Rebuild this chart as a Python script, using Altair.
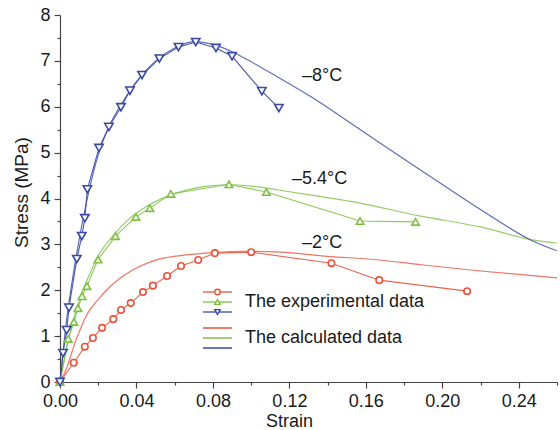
import altair as alt
import pandas as pd

# Temperatures of the three test series
temps = ["-2", "-5.4", "-8"]
temp_labels = ["\u20132\u00b0C", "\u20135.4\u00b0C", "\u20138\u00b0C"]
colors = ["#e9533d", "#7cc142", "#3a4aa4"]
shapes = ["circle", "triangle-up", "triangle-down"]
marker_sizes = [42, 70, 70]

# Experimental data, -8 °C
exp_m8_strain = [0, 0.0016, 0.0035, 0.0047, 0.0088, 0.0114, 0.013, 0.0143, 0.0204, 0.0256,
                 0.0319, 0.0366, 0.0429, 0.052, 0.062, 0.071, 0.0816, 0.090, 0.1056, 0.1145]
exp_m8_stress = [0, 0.63, 1.13, 1.62, 2.68, 3.18, 3.57, 4.2, 5.1, 5.56,
                 5.99, 6.35, 6.69, 7.05, 7.3, 7.41, 7.28, 7.1, 6.34, 5.97]

# Experimental data, -5.4 °C
exp_m54_strain = [0, 0.0043, 0.0073, 0.0094, 0.0115, 0.0141, 0.0199, 0.029, 0.0397, 0.047,
                  0.058, 0.0884, 0.108, 0.157, 0.186]
exp_m54_stress = [0, 0.94, 1.31, 1.61, 1.87, 2.09, 2.67, 3.18, 3.6, 3.79,
                  4.1, 4.31, 4.14, 3.51, 3.49]

# Experimental data, -2 °C
exp_m2_strain = [0, 0.0072, 0.013, 0.0172, 0.022, 0.0279, 0.0319, 0.037, 0.0434, 0.0486,
                 0.056, 0.0633, 0.0723, 0.081, 0.1, 0.142, 0.167, 0.213]
exp_m2_stress = [0, 0.42, 0.77, 0.96, 1.18, 1.37, 1.57, 1.72, 1.96, 2.1,
                 2.31, 2.53, 2.66, 2.81, 2.83, 2.59, 2.22, 1.98]

# Calculated curves
calc_m8_strain = [0, 0.003, 0.006, 0.01, 0.014, 0.02, 0.026, 0.032, 0.04, 0.05, 0.06, 0.07,
                  0.08, 0.09, 0.1, 0.115, 0.132, 0.15, 0.167, 0.185, 0.202, 0.223, 0.247, 0.26]
calc_m8_stress = [0, 1.2, 2.1, 3.1, 3.95, 4.95, 5.6, 6.05, 6.55, 7.0, 7.28, 7.42,
                  7.36, 7.2, 6.98, 6.62, 6.2, 5.7, 5.22, 4.72, 4.25, 3.68, 3.08, 2.86]

calc_m54_strain = [0, 0.004, 0.008, 0.012, 0.016, 0.02, 0.028, 0.036, 0.045, 0.055, 0.065,
                   0.075, 0.088, 0.1, 0.115, 0.135, 0.157, 0.188, 0.22, 0.247, 0.26]
calc_m54_stress = [0, 0.85, 1.5, 2.0, 2.4, 2.75, 3.2, 3.55, 3.82, 4.03, 4.17,
                   4.26, 4.3, 4.27, 4.18, 4.05, 3.9, 3.62, 3.38, 3.1, 3.03]

calc_m2_strain = [0, 0.003, 0.008, 0.014, 0.02, 0.026, 0.038, 0.052, 0.066, 0.08, 0.095,
                  0.115, 0.14, 0.167, 0.19, 0.22, 0.26]
calc_m2_stress = [0, 0.25, 0.87, 1.46, 1.8, 2.07, 2.44, 2.68, 2.77, 2.82, 2.85,
                  2.83, 2.74, 2.66, 2.55, 2.42, 2.27]

legend_texts = ["The experimental data", "The calculated data"]


def frame(strain, stress, temp):
    return pd.DataFrame({"strain": strain, "stress": stress, "temp": temp})


exp_df = pd.concat([
    frame(exp_m2_strain, exp_m2_stress, "-2"),
    frame(exp_m54_strain, exp_m54_stress, "-5.4"),
    frame(exp_m8_strain, exp_m8_stress, "-8"),
], ignore_index=True)

calc_df = pd.concat([
    frame(calc_m2_strain, calc_m2_stress, "-2"),
    frame(calc_m54_strain, calc_m54_stress, "-5.4"),
    frame(calc_m8_strain, calc_m8_stress, "-8"),
], ignore_index=True)

FONT = "Liberation Sans"
AXIS_COLOR = "#454545"
TEXT_COLOR = "#1a1a1a"

x_ticks = [round(i * 0.02, 2) for i in range(14)]
y_ticks = [i * 0.5 for i in range(17)]

x_major = "round(datum.value * 100) % 4 == 0"
y_major = "round(datum.value * 2) % 2 == 0"

x_axis = alt.Axis(
    values=x_ticks, title="Strain", grid=False,
    labelExpr=f"{x_major} ? format(datum.value, '.2f') : ''",
    tickSize={"condition": {"test": x_major, "value": 6}, "value": 3},
    domainColor=AXIS_COLOR, tickColor=AXIS_COLOR, labelColor=TEXT_COLOR,
    domainWidth=1.2, tickWidth=1.2,
    labelFont=FONT, labelFontSize=18, labelPadding=4, labelFlush=False,
    titleFont=FONT, titleFontSize=18, titleFontWeight="normal", titleColor=TEXT_COLOR,
    titlePadding=2, titleX=229,
)
y_axis = alt.Axis(
    values=y_ticks, title="Stress (MPa)", grid=False,
    labelExpr=f"{y_major} ? format(datum.value, 'd') : ''",
    tickSize={"condition": {"test": y_major, "value": 6}, "value": 3},
    domainColor=AXIS_COLOR, tickColor=AXIS_COLOR, labelColor=TEXT_COLOR,
    domainWidth=1.2, tickWidth=1.2,
    labelFont=FONT, labelFontSize=18, labelPadding=4, labelFlush=False,
    titleFont=FONT, titleFontSize=19, titleFontWeight="normal", titleColor=TEXT_COLOR,
    titlePadding=8, titleY=177,
)

x_enc = alt.X("strain:Q", scale=alt.Scale(domain=[0, 0.26], nice=False, zero=False), axis=x_axis)
y_enc = alt.Y("stress:Q", scale=alt.Scale(domain=[0, 8], nice=False), axis=y_axis)
color_enc = alt.Color("temp:N", scale=alt.Scale(domain=temps, range=colors), legend=None)
shape_enc = alt.Shape("temp:N", scale=alt.Scale(domain=temps, range=shapes), legend=None)
size_enc = alt.Size("temp:N", scale=alt.Scale(domain=temps, range=marker_sizes), legend=None)

calc_lines = alt.Chart(calc_df).mark_line(
    strokeWidth=1.2, interpolate="monotone", opacity=0.8
).encode(x=x_enc, y=y_enc, color=color_enc, detail="temp:N")

exp_lines = alt.Chart(exp_df).mark_line(strokeWidth=1.1, opacity=0.9).encode(
    x=x_enc, y=y_enc, color=color_enc, detail="temp:N"
)

exp_points = alt.Chart(exp_df).mark_point(
    filled=False, fill="white", fillOpacity=1, strokeWidth=1.6, opacity=1
).encode(x=x_enc, y=y_enc, color=color_enc, shape=shape_enc, size=size_enc)

# Hand-built legend, in pixel positions inside the plot area
one = pd.DataFrame({"k": [0]})
legend_layers = []
exp_rows_y = [277, 287, 297]
calc_rows_y = [313, 323, 333]
for i in range(3):
    legend_layers.append(
        alt.Chart(one).mark_rule(strokeWidth=1.3).encode(
            x=alt.value(143), x2=alt.value(172), y=alt.value(exp_rows_y[i]),
            color=alt.value(colors[i]))
    )
    legend_layers.append(
        alt.Chart(one).mark_point(filled=False, fill="white", fillOpacity=1,
                                  strokeWidth=1.4, size=30, shape=shapes[i]).encode(
            x=alt.value(157.5), y=alt.value(exp_rows_y[i]), color=alt.value(colors[i]))
    )
    legend_layers.append(
        alt.Chart(one).mark_rule(strokeWidth=1.5).encode(
            x=alt.value(143), x2=alt.value(172), y=alt.value(calc_rows_y[i]),
            color=alt.value(colors[i]))
    )
for text, ypos in zip(legend_texts, [287, 323]):
    legend_layers.append(
        alt.Chart(one).mark_text(align="left", baseline="middle", font=FONT,
                                 fontSize=18, color=TEXT_COLOR).encode(
            x=alt.value(185), y=alt.value(ypos), text=alt.value(text))
    )

# Temperature annotations next to each curve
annot_pos = [(242, 228), (232, 164), (242, 61)]
annotations = [
    alt.Chart(one).mark_text(align="left", baseline="middle", font=FONT,
                             fontSize=18, color=TEXT_COLOR).encode(
        x=alt.value(px), y=alt.value(py), text=alt.value(lbl))
    for lbl, (px, py) in zip(temp_labels, annot_pos)
]

chart = alt.layer(
    calc_lines, exp_lines, exp_points, *legend_layers, *annotations
).properties(
    width=497, height=367,
    autosize=alt.AutoSizeParams(type="none"),
    padding={"left": 60, "top": 15, "right": 3, "bottom": 48},
    background="white",
).configure_view(stroke=None)

chart.save("out.html", embed_options={"renderer": "svg", "actions": False})
